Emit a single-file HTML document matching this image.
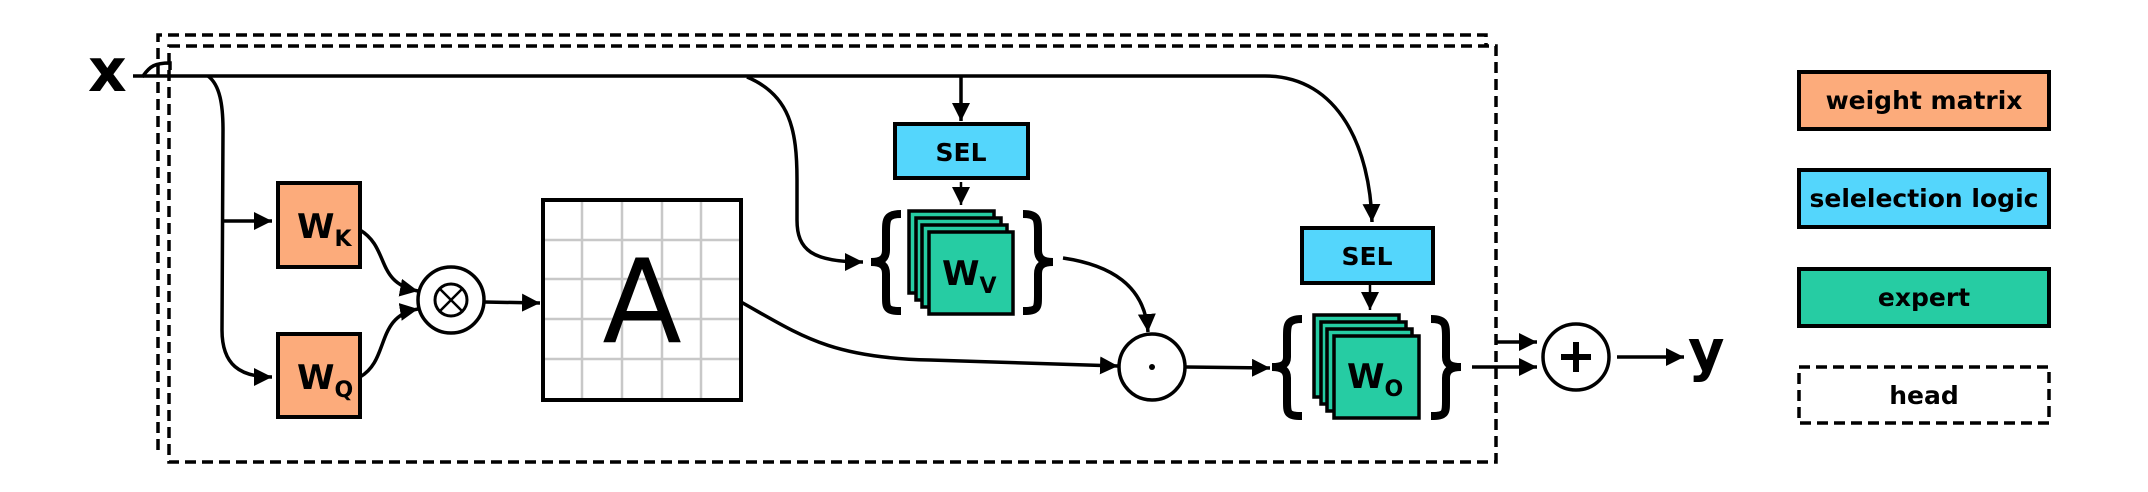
<!DOCTYPE html>
<html><head><meta charset="utf-8"><style>
html,body{margin:0;padding:0;background:#fff;}
svg{display:block;}
text{font-family:"DejaVu Sans","Liberation Sans",sans-serif;font-weight:bold;fill:#000;}
</style></head><body>
<svg width="2148" height="492" viewBox="0 0 2148 492" xmlns="http://www.w3.org/2000/svg">
<defs>
<marker id="ah" markerUnits="userSpaceOnUse" markerWidth="20" markerHeight="20" refX="18" refY="9" orient="auto">
<path d="M0,0 L18,9 L0,18 Z" fill="#000"/>
</marker>
</defs>
<g fill="none" stroke="#000" stroke-width="3.5" stroke-dasharray="11,6">
<path d="M158 450 L158 35 L1486 35 L1486 46"/>
<rect x="169" y="46" width="1327" height="416"/>
</g>
<text x="88" y="91" font-size="60">x</text>
<g fill="none" stroke="#000" stroke-width="3.5">
<path d="M133 76 L143 76 C150 66 155 63 170 63 L170 70"/>
<path d="M143 76 L1265 76 C1340 76 1370 150 1372 222" marker-end="url(#ah)"/>
<path d="M208 76 C220 85 223 105 223 130 L222 330 C222 365 240 377 272 377" marker-end="url(#ah)"/>
<path d="M222 221 L272 221" marker-end="url(#ah)"/>
<path d="M360 230 C390 248 375 283 418 291" marker-end="url(#ah)"/>
<path d="M360 377 C390 360 375 316 418 309" marker-end="url(#ah)"/>
<path d="M484 302 L540 303" marker-end="url(#ah)"/>
<path d="M961 76 L961 121" marker-end="url(#ah)"/>
<path d="M961 182 L961 205" stroke-width="2.5" marker-end="url(#ah)"/>
<path d="M747 77 C790 95 797 130 797 180 L797 220 C797 250 812 262 863 262" marker-end="url(#ah)"/>
<path d="M741 302 C800 335 830 358 930 360 L1118 366" marker-end="url(#ah)"/>
<path d="M1063 258 C1110 265 1145 285 1148 332" marker-end="url(#ah)"/>
<path d="M1186 367 L1270 368" marker-end="url(#ah)"/>
<path d="M1370 283 L1370 310" stroke-width="2.5" marker-end="url(#ah)"/>
<path d="M1496 342 L1537 342" marker-end="url(#ah)"/>
<path d="M1472 367 L1537 367" marker-end="url(#ah)"/>
<path d="M1617 357 L1684 357" marker-end="url(#ah)"/>
</g>
<rect x="278" y="183" width="82" height="84" fill="#fcab7b" stroke="#000" stroke-width="4"/>
<text x="297" y="238" font-size="34">W<tspan font-size="22" dy="8">K</tspan></text>
<rect x="278" y="334" width="82" height="83" fill="#fcab7b" stroke="#000" stroke-width="4"/>
<text x="297" y="389" font-size="34">W<tspan font-size="22" dy="8">Q</tspan></text>
<circle cx="451" cy="300" r="33" fill="#fff" stroke="#000" stroke-width="3.5"/>
<circle cx="451" cy="300" r="16" fill="none" stroke="#000" stroke-width="3"/>
<path d="M440 289 L462 311 M462 289 L440 311" stroke="#000" stroke-width="2.5"/>
<rect x="543" y="200" width="198" height="200" fill="#fff"/>
<g stroke="#c8c8c8" stroke-width="2.5">
<path d="M582 200 V400 M622 200 V400 M662 200 V400 M701 200 V400 M543 240 H741 M543 279 H741 M543 319 H741 M543 359 H741"/>
</g>
<rect x="543" y="200" width="198" height="200" fill="none" stroke="#000" stroke-width="4"/>
<text x="642" y="342" font-size="116" text-anchor="middle" style="font-weight:normal">A</text>
<rect x="895" y="124" width="133" height="54" fill="#54d6fc" stroke="#000" stroke-width="4"/>
<text x="961" y="161" font-size="25" text-anchor="middle">SEL</text>
<rect x="1302" y="228" width="131" height="55" fill="#54d6fc" stroke="#000" stroke-width="4"/>
<text x="1367" y="265" font-size="25" text-anchor="middle">SEL</text>
<g fill="#26cca3" stroke="#000" stroke-width="3.5">
<rect x="909" y="211" width="85" height="82"/>
<rect x="916" y="218" width="85" height="82"/>
<rect x="922" y="225" width="85" height="82"/>
<rect x="929" y="232" width="84" height="82"/>
</g>
<text x="942" y="285" font-size="34">W<tspan font-size="22" dy="8">V</tspan></text>
<g fill="#26cca3" stroke="#000" stroke-width="3.5">
<rect x="1314" y="315" width="85" height="82"/>
<rect x="1321" y="322" width="85" height="82"/>
<rect x="1327" y="329" width="85" height="82"/>
<rect x="1334" y="336" width="85" height="82"/>
</g>
<text x="1347" y="388" font-size="34">W<tspan font-size="22" dy="8">O</tspan></text>
<g fill="none" stroke="#000" stroke-width="8">
<path d="M901 214 C886 214 886 220 886 232 L886 250 C886 258 882 262 871 262 C882 262 886 266 886 274 L886 296 C886 308 886 311 901 311"/>
<path d="M1023 214 C1038 214 1038 220 1038 232 L1038 250 C1038 258 1042 262 1053 262 C1042 262 1038 266 1038 274 L1038 296 C1038 308 1038 311 1023 311"/>
<path d="M1302 319 C1287 319 1287 325 1287 337 L1287 357 C1287 364 1283 367 1272 367 C1283 367 1287 371 1287 378 L1287 401 C1287 413 1287 416 1302 416"/>
<path d="M1431 319 C1446 319 1446 325 1446 337 L1446 357 C1446 364 1450 367 1461 367 C1450 367 1446 371 1446 378 L1446 401 C1446 413 1446 416 1431 416"/>
</g>
<circle cx="1152" cy="367" r="33" fill="#fff" stroke="#000" stroke-width="3.5"/>
<circle cx="1152" cy="367" r="3" fill="#000"/>
<circle cx="1576" cy="357" r="33" fill="#fff" stroke="#000" stroke-width="3.5"/>
<path d="M1576 342 V372 M1561 357 H1591" stroke="#000" stroke-width="6"/>
<text x="1688" y="370" font-size="56">y</text>
<rect x="1799" y="72" width="250" height="57" fill="#fcab7b" stroke="#000" stroke-width="4"/>
<text x="1924" y="109" font-size="25" text-anchor="middle">weight matrix</text>
<rect x="1799" y="170" width="250" height="57" fill="#54d6fc" stroke="#000" stroke-width="4"/>
<text x="1924" y="207" font-size="25" text-anchor="middle">selelection logic</text>
<rect x="1799" y="269" width="250" height="57" fill="#26cca3" stroke="#000" stroke-width="4"/>
<text x="1924" y="306" font-size="25" text-anchor="middle">expert</text>
<rect x="1799" y="367" width="250" height="56" fill="#fff" stroke="#000" stroke-width="3.5" stroke-dasharray="11,6"/>
<text x="1924" y="404" font-size="25" text-anchor="middle">head</text>
</svg>
</body></html>
